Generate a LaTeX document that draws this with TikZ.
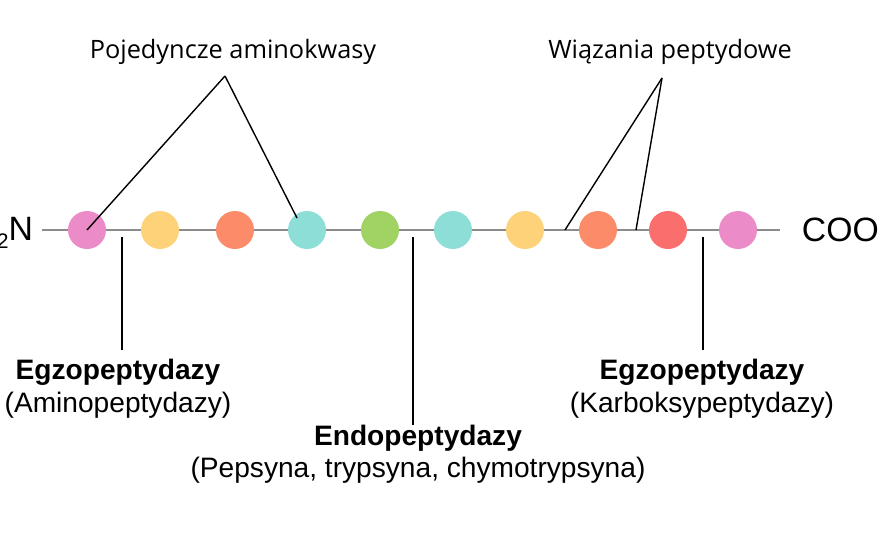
\documentclass[tikz,border=0pt]{standalone}
\usepackage{fontspec}
\setmainfont{Liberation Sans}
\newfontfamily\topfont{Open Sans}
\usetikzlibrary{positioning}
\definecolor{cpink}{RGB}{235,140,200}
\definecolor{cyellow}{RGB}{253,210,120}
\definecolor{corange}{RGB}{252,140,105}
\definecolor{ccyan}{RGB}{140,222,215}
\definecolor{cgreen}{RGB}{160,210,100}
\definecolor{cred}{RGB}{250,110,110}
\begin{document}
\begin{tikzpicture}[x=0.025cm,y=-0.025cm,
    acid/.style={circle,fill=#1,inner sep=0pt,minimum size=0.95cm},
    chain/.style={draw=gray!90,line width=1.8pt},
    pointer/.style={draw=black,line width=1pt},
    toplabel/.style={font=\topfont\fontsize{18}{21}\selectfont},
    enzyme/.style={font=\fontsize{20}{24}\selectfont\bfseries},
    example/.style={font=\fontsize{20}{24}\selectfont}
]
\useasboundingbox (0,0) rectangle (880,540);

\coordinate (left) at (42,230);
\coordinate (right) at (780,230);
\draw[chain] (left) -- (right);

\foreach \x/\c/\n in {87/cpink/1,160/cyellow/2,235/corange/3,307/ccyan/4,380/cgreen/5,
    453/ccyan/6,525/cyellow/7,598/corange/8,668/cred/9,738/cpink/10}{
    \node[acid=\c] (a\n) at (\x,230) {};
}

\node[anchor=east,font=\fontsize{24}{26}\selectfont] (nterm) at (38,233) {\raisebox{-0.45ex}{\fontsize{15}{17}\selectfont 2}N};
\node[anchor=west,font=\fontsize{24}{26}\selectfont] (cterm) at (797,230) {COO};

% single amino acids
\node[toplabel] (single) at (233,52) {Pojedyncze aminokwasy};
\coordinate (apexA) at (225,76);
\draw[pointer] (apexA) -- (a1.center);
\draw[pointer] (apexA) -- (297,218);

% peptide bonds
\node[toplabel] (bonds) at (670,52) {Wiązania peptydowe};
\coordinate (apexB) at (662,78);
\coordinate (bond1) at (565,230);
\coordinate (bond2) at (636,230);
\draw[pointer] (apexB) -- (bond1);
\draw[pointer] (apexB) -- (bond2);

% enzymes
\coordinate (cutA) at (122,237);
\coordinate (cutB) at (413,237);
\coordinate (cutC) at (703,237);
\draw[pointer] (cutA) -- (122,350);
\draw[pointer] (cutB) -- (413,425);
\draw[pointer] (cutC) -- (703,350);

\node[enzyme] (amino) at (118,372) {Egzopeptydazy};
\node[example] (aminoex) at (118,405) {(Aminopeptydazy)};
\node[enzyme] (endo) at (418,438) {Endopeptydazy};
\node[example] (endoex) at (418,470) {(Pepsyna, trypsyna, chymotrypsyna)};
\node[enzyme] (carb) at (702,372) {Egzopeptydazy};
\node[example] (carbex) at (702,405) {(Karboksypeptydazy)};
\end{tikzpicture}
\end{document}
